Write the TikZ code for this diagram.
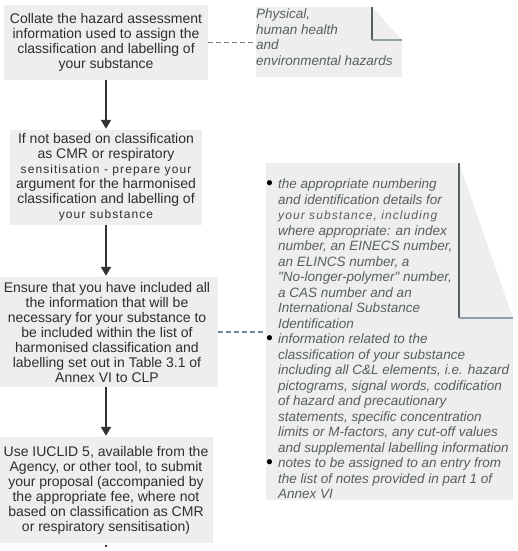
\documentclass[tikz,border=0pt]{standalone}
\usepackage{fontspec}
\setmainfont{Liberation Sans}
\usetikzlibrary{arrows.meta}

\definecolor{boxgray}{HTML}{EEEEEE}
\definecolor{boxtext}{HTML}{2E2E2E}
\definecolor{notegray}{HTML}{56605F}
\definecolor{arrowgray}{HTML}{333333}
\definecolor{dashgray}{HTML}{6F8896}
\definecolor{folddark}{HTML}{55605F}
\definecolor{foldlight}{HTML}{8FA0A8}

\newcommand{\bul}{\makebox[12pt][l]{\raisebox{-0.6pt}{\fontsize{19}{15}\selectfont\textcolor{black}{\textbullet}}}}
\newcommand{\itemind}{\hspace*{12pt}}
\newcommand{\spaced}[1]{{\fontsize{12}{15}\selectfont\addfontfeature{LetterSpace=9}#1}}

\begin{document}
\begin{tikzpicture}[x=1pt, y=-1pt,
    stepbox/.style={rectangle, fill=boxgray, text=boxtext, align=center, inner sep=0pt, font=\fontsize{14}{15}\selectfont},
    notetext/.style={text=notegray, align=left, inner sep=0pt, font=\fontsize{13.5}{15.5}\selectfont\itshape},
    flow/.style={-{Triangle[width=10pt,length=9pt]}, line width=2pt, draw=arrowgray, shorten >=1pt},
    link/.style={dash pattern=on 5pt off 3pt, line width=1.2pt, draw=dashgray},
    fold/.style={line width=1.2pt, draw=folddark}
]
    \useasboundingbox (0,0) rectangle (517,551);

    % Notiz oben
    \fill[boxgray] (256,7) -- (372,7) -- (402,40) -- (402,77) -- (256,77) -- cycle;
    \draw[fold] (372,7) -- (372,40);
    \draw[line width=1.6pt, foldlight] (372,40) -- (402,40);
    \node[notetext, anchor=north west] (hazards) at (256,9) {Physical,\\human health\\and\\environmental hazards};

    % Notiz rechts
    \fill[boxgray] (266,163) -- (459,163) -- (513,318) -- (513,500) -- (266,500) -- cycle;
    \draw[fold] (459,163) -- (459,318);
    \draw[line width=2.4pt, foldlight] (459,318) -- (513,318);
    \node[notetext, anchor=north west] (details) at (266,179) {%
        \bul the appropriate numbering\\
        \itemind and identification details for\\
        \itemind \spaced{your substance, including}\\
        \itemind where appropriate: an index\\
        \itemind number, an EINECS number,\\
        \itemind an ELINCS number, a\\
        \itemind \textquotedbl No-longer-polymer\textquotedbl\ number,\\
        \itemind a CAS number and an\\
        \itemind International Substance\\
        \itemind Identification\\
        \bul information related to the\\
        \itemind classification of your substance\\
        \itemind including all C\&L elements, i.e. hazard\\
        \itemind pictograms, signal words, codification\\
        \itemind of hazard and precautionary\\
        \itemind statements, specific concentration\\
        \itemind limits or M-factors, any cut-off values\\
        \itemind and supplemental labelling information\\
        \bul notes to be assigned to an entry from\\
        \itemind the list of notes provided in part 1 of\\
        \itemind Annex VI};

    % Schritte
    \node[stepbox, minimum width=204pt, minimum height=75pt] (collate) at (106,42.5)
        {Collate the hazard assessment\\information used to assign the\\classification and labelling of\\your substance};
    \node[stepbox, minimum width=192pt, minimum height=95pt] (argue) at (106,177.5)
        {If not based on classification\\as CMR or respiratory\\\spaced{sensitisation - prepare your}\\argument for the harmonised\\classification and labelling of\\\spaced{your substance}};
    \node[stepbox, minimum width=222pt, minimum height=110pt] (ensure) at (107,332)
        {Ensure that you have included all\\the information that will be\\necessary for your substance to\\be included within the list of\\harmonised classification and\\labelling set out in Table 3.1 of\\Annex VI to CLP};
    \node[stepbox, minimum width=214pt, minimum height=106pt] (submit) at (106,490)
        {Use IUCLID 5, available from the\\Agency, or other tool, to submit\\your proposal (accompanied by\\the appropriate fee, where not\\based on classification as CMR\\or respiratory sensitisation)};

    % Pfeile
    \draw[flow] (collate.south) -- (collate.south |- argue.north);
    \draw[flow] (argue.south) -- (argue.south |- ensure.north);
    \draw[flow] (argue.south |- ensure.south) -- (argue.south |- submit.north);
    \draw[line width=1.5pt, arrowgray] ([yshift=-2pt]submit.south) -- ++(0,2);

    % Verbindungen
    \draw[link] (collate.east) -- (collate.east -| hazards.west);
    \draw[link] (ensure.east) -- (ensure.east -| details.west);
\end{tikzpicture}
\end{document}
